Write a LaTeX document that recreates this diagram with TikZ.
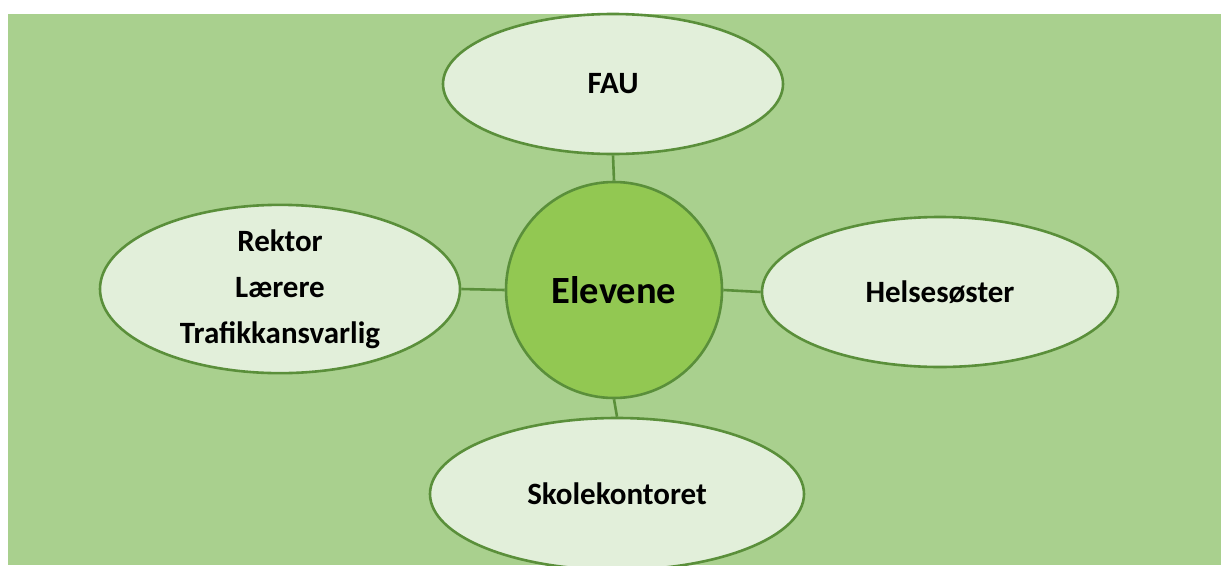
\documentclass[tikz,border=0pt]{standalone}
\usepackage{fontspec}
\setmainfont{Carlito}
\usetikzlibrary{shapes.geometric}

\definecolor{bggreen}{HTML}{A9D08E}
\definecolor{palefill}{HTML}{E2EFDA}
\definecolor{hubgreen}{HTML}{92C852}
\definecolor{edgegreen}{HTML}{5A8F3A}

\tikzset{
  role/.style={ellipse, draw=edgegreen, line width=2.6pt, fill=palefill, inner sep=0pt,
    font=\fontsize{31}{46}\selectfont\bfseries, align=center},
  hub/.style={circle, draw=edgegreen, line width=2.6pt, fill=hubgreen, inner sep=0pt,
    minimum size=216pt, font=\fontsize{38.5}{44}\selectfont\bfseries},
  link/.style={draw=edgegreen, line width=2.6pt}
}

\begin{document}
\begin{tikzpicture}[x=1pt, y=-1pt]
        \useasboundingbox (0,0) rectangle (1221,565);
        % draw background
        \fill[white] (0,0) rectangle (1221,565);
        \fill[bggreen] (8,14) rectangle (1221,565);

        % draw centre and the four groups
        \node[hub] (elevene) at (614,290) {Elevene};
        \node[role, minimum width=340pt, minimum height=140pt] (fau) at (613,84) {FAU};
        \node[role, minimum width=360pt, minimum height=152pt] (skole) at (280,289)
            {Rektor\\Lærere\\Trafikkansvarlig};
        \node[role, minimum width=356pt, minimum height=150pt] (helse) at (940,292) {Helsesøster};
        \node[role, minimum width=374pt, minimum height=152pt] (kontor) at (617,494) {Skolekontoret};

        % draw links
        \foreach \other/\a/\b in {fau/south/north, skole/east/west, helse/west/east, kontor/north/south}
        \draw[link] (\other.\a) -- (elevene.\b);
\end{tikzpicture}
\end{document}
